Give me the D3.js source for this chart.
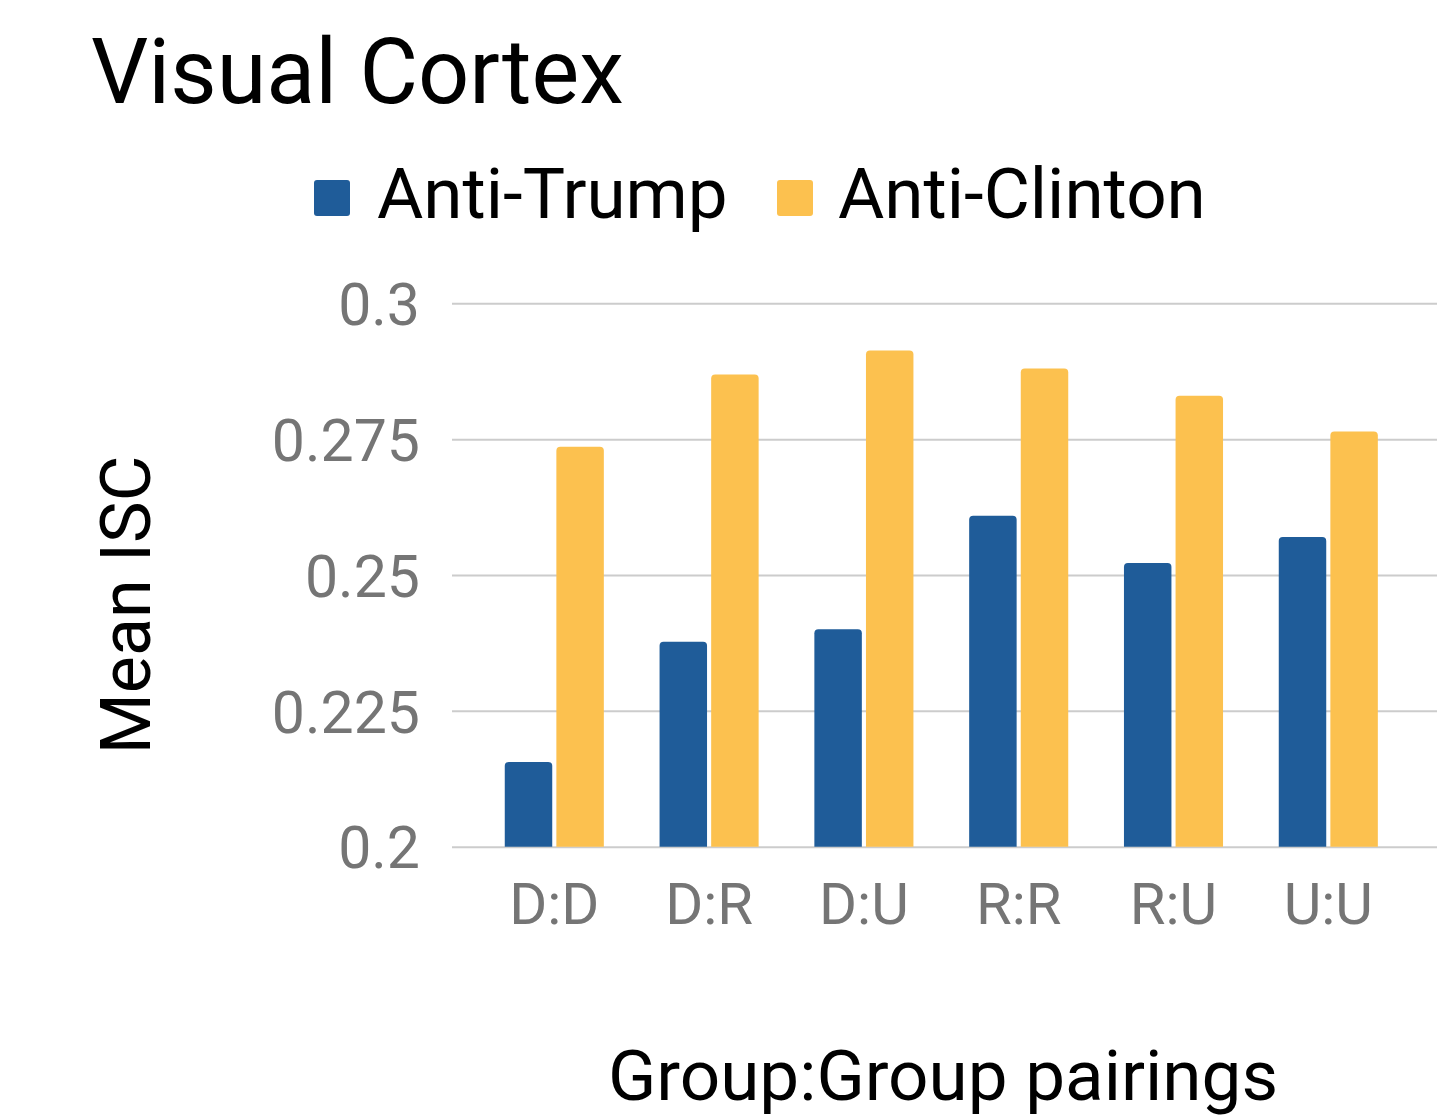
<!DOCTYPE html>
<html>
<head>
<meta charset="utf-8">
<script src="https://cdn.jsdelivr.net/npm/d3@7"></script>
<style>
  body { margin: 0; background: #fff; }
  svg { display: block; }
</style>
</head>
<body>
<script>
// data
var pairings = ["D:D", "D:R", "D:U", "R:R", "R:U", "U:U"];
var seriesNames = ["Anti-Trump", "Anti-Clinton"];
var antiTrump = [0.2156, 0.2377, 0.2400, 0.2609, 0.2522, 0.2570];
var antiClinton = [0.2736, 0.2869, 0.2913, 0.2880, 0.2830, 0.2764];
var yTicks = [0.2, 0.225, 0.25, 0.275, 0.3];
var colors = ["#1f5c99", "#fcc14f"];

var W = 1439, H = 1120;
var gridLeft = 452, gridRight = 1437;
var FONT = "Roboto, sans-serif";

var svg = d3.select("body").append("svg")
  .attr("width", W)
  .attr("height", H);

var y = d3.scaleLinear()
  .domain([0.2, 0.3])
  .range([846.7, 303.3]);

var x0 = d3.scaleBand()
  .domain(pairings)
  .range([476.9, 1405.7])
  .paddingInner(0.36)
  .paddingOuter(0.18);

var x1 = d3.scaleBand()
  .domain(seriesNames)
  .range([0, x0.bandwidth()])
  .paddingInner(0.08);

// y axis + gridlines
var yAxis = svg.append("g")
  .attr("transform", "translate(" + gridLeft + ",0)")
  .call(d3.axisLeft(y)
    .tickValues(yTicks)
    .tickSize(-(gridRight - gridLeft))
    .tickPadding(32)
    .tickFormat(d => String(+d.toFixed(3))));
yAxis.select(".domain").remove();
yAxis.selectAll("line")
  .attr("stroke", "#cccccc")
  .attr("stroke-width", 2);
yAxis.selectAll("text")
  .attr("fill", "#757575")
  .attr("font-family", FONT)
  .attr("font-size", 59)
  .attr("dy", "0.36em");

// rounded-top bar
function barPath (x, yTop, w, yBot) {
  var r = Math.min(4, (yBot - yTop) / 2);
  return "M" + x + "," + yBot +
    "V" + (yTop + r) +
    "Q" + x + "," + yTop + " " + (x + r) + "," + yTop +
    "H" + (x + w - r) +
    "Q" + (x + w) + "," + yTop + " " + (x + w) + "," + (yTop + r) +
    "V" + yBot + "Z";
}

var rows = pairings.map(function (p, i) {
  return { key: p, vals: [antiTrump[i], antiClinton[i]] };
});

var groups = svg.append("g").selectAll("g")
  .data(rows)
  .enter().append("g")
  .attr("transform", d => "translate(" + x0(d.key) + ",0)");

groups.selectAll("path")
  .data(d => d.vals.map((v, j) => ({ name: seriesNames[j], value: v, j: j })))
  .enter().append("path")
  .attr("d", d => barPath(x1(d.name), y(d.value), x1.bandwidth(), y(0.2)))
  .attr("fill", d => colors[d.j]);

// x labels
var xAxis = svg.append("g")
  .attr("transform", "translate(0," + y(0.2) + ")")
  .call(d3.axisBottom(x0).tickSize(0).tickPadding(36));
xAxis.select(".domain").remove();
xAxis.selectAll("text")
  .attr("fill", "#757575")
  .attr("font-family", FONT)
  .attr("font-size", 58)
  .attr("dy", "0.71em");

// title
svg.append("text")
  .attr("x", 91)
  .attr("y", 103)
  .attr("font-family", FONT)
  .attr("font-size", 90)
  .attr("fill", "#000")
  .text("Visual Cortex");

// legend
var legendPos = [{ sx: 314, tx: 377 }, { sx: 777, tx: 838 }];
var legend = svg.append("g").selectAll("g")
  .data(seriesNames)
  .enter().append("g");
legend.append("rect")
  .attr("x", (d, i) => legendPos[i].sx)
  .attr("y", 180)
  .attr("width", 36)
  .attr("height", 36)
  .attr("rx", 3)
  .attr("fill", (d, i) => colors[i]);
legend.append("text")
  .attr("x", (d, i) => legendPos[i].tx)
  .attr("y", 218)
  .attr("font-family", FONT)
  .attr("font-size", 71)
  .attr("fill", "#000")
  .text(d => d);

// axis titles
svg.append("text")
  .attr("transform", "translate(150,605) rotate(-90)")
  .attr("text-anchor", "middle")
  .attr("font-family", FONT)
  .attr("font-size", 70)
  .attr("fill", "#000")
  .text("Mean ISC");

svg.append("text")
  .attr("x", 943)
  .attr("y", 1100)
  .attr("text-anchor", "middle")
  .attr("font-family", FONT)
  .attr("font-size", 71)
  .attr("fill", "#000")
  .text("Group:Group pairings");
</script>
</body>
</html>
